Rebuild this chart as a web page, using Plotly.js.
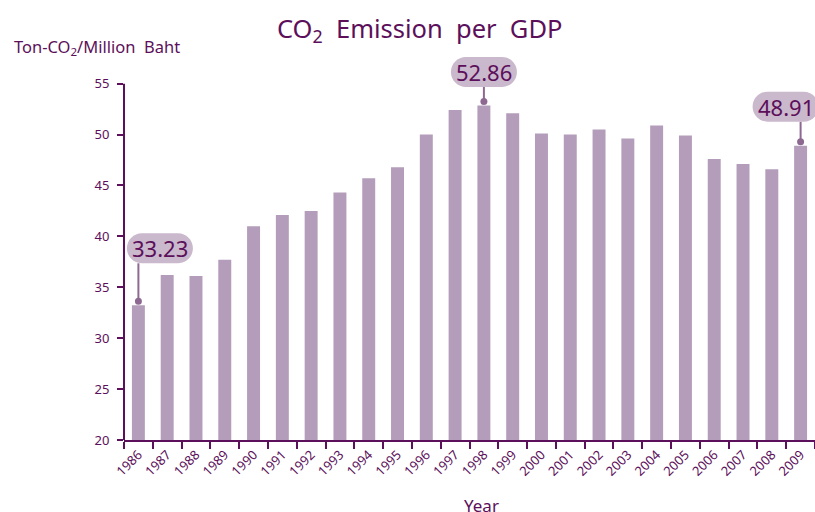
<!DOCTYPE html>
<html>
<head>
<meta charset="utf-8">
<script src="https://cdn.plot.ly/plotly-3.0.1.min.js"></script>
<style>html,body{margin:0;padding:0;background:#fff;}#chart{width:815px;height:512px;}</style>
</head>
<body>
<div id="chart"></div>
<script>
// ---- data ----
const years = ['1986','1987','1988','1989','1990','1991','1992','1993','1994','1995','1996','1997',
               '1998','1999','2000','2001','2002','2003','2004','2005','2006','2007','2008','2009'];
const emission = [33.23, 36.2, 36.1, 37.7, 41.0, 42.1, 42.5, 44.3, 45.7, 46.8, 50.0, 52.4,
                  52.86, 52.1, 50.1, 50.0, 50.5, 49.6, 50.9, 49.9, 47.6, 47.1, 46.6, 48.91];
const yTicks = [20, 25, 30, 35, 40, 45, 50, 55];
const highlightYears = ['1986', '1998', '2009'];
const titleText = 'CO<sub>2</sub>&nbsp; Emission&nbsp; per&nbsp; GDP';
const yTitleText = 'Ton-CO<sub>2</sub>/Million&nbsp; Baht';
const xTitleText = 'Year';

// ---- styles ----
const DARK = '#5c0f5a';
const BAR = '#b49dba';
const PILL = '#cab8cd';
const STEM = '#8d6992';
const FONT = 'Noto Sans, sans-serif';

// label box placement (pixels relative to bar top/center)
const boxStyle = {
  '1986': {L: -11.5, R: 54.5, B: 42, T: 72},
  '1998': {L: -33, R: 33, B: 18.5, T: 48.5},
  '2009': {L: -48, R: 18, B: 24, T: 54}
};

function pillPath(L, R, B, T) {
  const r = (T - B) / 2, k = 0.5523 * r;
  const f = v => v.toFixed(2);
  return 'M' + f(L + r) + ',' + f(B) +
    ' L' + f(R - r) + ',' + f(B) +
    ' C' + f(R - r + k) + ',' + f(B) + ' ' + f(R) + ',' + f(B + r - k) + ' ' + f(R) + ',' + f(B + r) +
    ' C' + f(R) + ',' + f(B + r + k) + ' ' + f(R - r + k) + ',' + f(T) + ' ' + f(R - r) + ',' + f(T) +
    ' L' + f(L + r) + ',' + f(T) +
    ' C' + f(L + r - k) + ',' + f(T) + ' ' + f(L) + ',' + f(B + r + k) + ' ' + f(L) + ',' + f(B + r) +
    ' C' + f(L) + ',' + f(B + r - k) + ' ' + f(L + r - k) + ',' + f(B) + ' ' + f(L + r) + ',' + f(B) + ' Z';
}

const shapes = [];
const annotations = [];

// y axis line from 20 to 55 only
shapes.push({type: 'line', xref: 'paper', yref: 'y', x0: 0, x1: 0, y0: yTicks[0], y1: yTicks[yTicks.length - 1],
  line: {color: DARK, width: 2}, layer: 'above'});

highlightYears.forEach(yr => {
  const idx = years.indexOf(yr);
  const v = emission[idx];
  const b = boxStyle[yr];
  // stem
  shapes.push({type: 'line', xref: 'x', yref: 'y', xsizemode: 'pixel', ysizemode: 'pixel',
    xanchor: idx, yanchor: v, x0: 0, x1: 0, y0: 4, y1: b.B,
    line: {color: STEM, width: 2}, layer: 'above'});
  // dot
  shapes.push({type: 'circle', xref: 'x', yref: 'y', xsizemode: 'pixel', ysizemode: 'pixel',
    xanchor: idx, yanchor: v, x0: -3.5, x1: 3.5, y0: 0.5, y1: 7.5,
    fillcolor: STEM, line: {width: 0}, layer: 'above'});
  // pill
  shapes.push({type: 'path', xref: 'x', yref: 'y', xsizemode: 'pixel', ysizemode: 'pixel',
    xanchor: idx, yanchor: v, path: pillPath(b.L, b.R, b.B, b.T),
    fillcolor: PILL, line: {width: 0}, layer: 'above'});
  annotations.push({x: idx, y: v, xref: 'x', yref: 'y', showarrow: false,
    xanchor: 'center', yanchor: 'middle',
    xshift: (b.L + b.R) / 2, yshift: (b.B + b.T) / 2,
    text: v.toFixed(2), font: {family: FONT, size: 22, color: DARK}});
});

annotations.push({xref: 'paper', yref: 'paper', x: -0.162, y: 1.003, xanchor: 'left', yanchor: 'middle',
  showarrow: false, text: yTitleText, font: {family: FONT, size: 16.5, color: DARK}});
annotations.push({xref: 'paper', yref: 'paper', x: 0.518, y: -0.168, xanchor: 'center', yanchor: 'middle',
  showarrow: false, text: xTitleText, font: {family: FONT, size: 17, color: DARK}});

const trace = {
  type: 'bar', x: years, y: emission,
  marker: {color: BAR, line: {width: 0}},
  hoverinfo: 'x+y'
};

const layout = {
  width: 815, height: 512,
  margin: {l: 124, r: 0, t: 48, b: 72, pad: 0},
  paper_bgcolor: '#fff', plot_bgcolor: '#fff',
  showlegend: false,
  bargap: 0.55,
  font: {family: FONT, color: DARK},
  title: {text: titleText, xref: 'container', yref: 'container', x: 0.515, y: 0.943,
    xanchor: 'center', yanchor: 'middle', font: {family: FONT, size: 25.5, color: DARK}},
  xaxis: {
    type: 'category', range: [-0.5, years.length - 0.5], autorange: false,
    tickson: 'boundaries', ticks: 'outside', ticklen: 7, tickwidth: 2, tickcolor: DARK,
    showline: true, linecolor: DARK, linewidth: 2, showgrid: false, zeroline: false,
    tickangle: -45, tickfont: {family: FONT, size: 13, color: DARK}, automargin: false
  },
  yaxis: {
    range: [20, 58.5], autorange: false, tickvals: yTicks, ticks: 'outside', ticklen: 6, tickwidth: 2, tickcolor: DARK,
    showline: false, showgrid: false, zeroline: false, ticklabelstandoff: 5,
    tickfont: {family: FONT, size: 13, color: DARK}, automargin: false
  },
  shapes: shapes,
  annotations: annotations
};

Plotly.newPlot('chart', [trace], layout, {displayModeBar: false, staticPlot: true});
</script>
</body>
</html>
